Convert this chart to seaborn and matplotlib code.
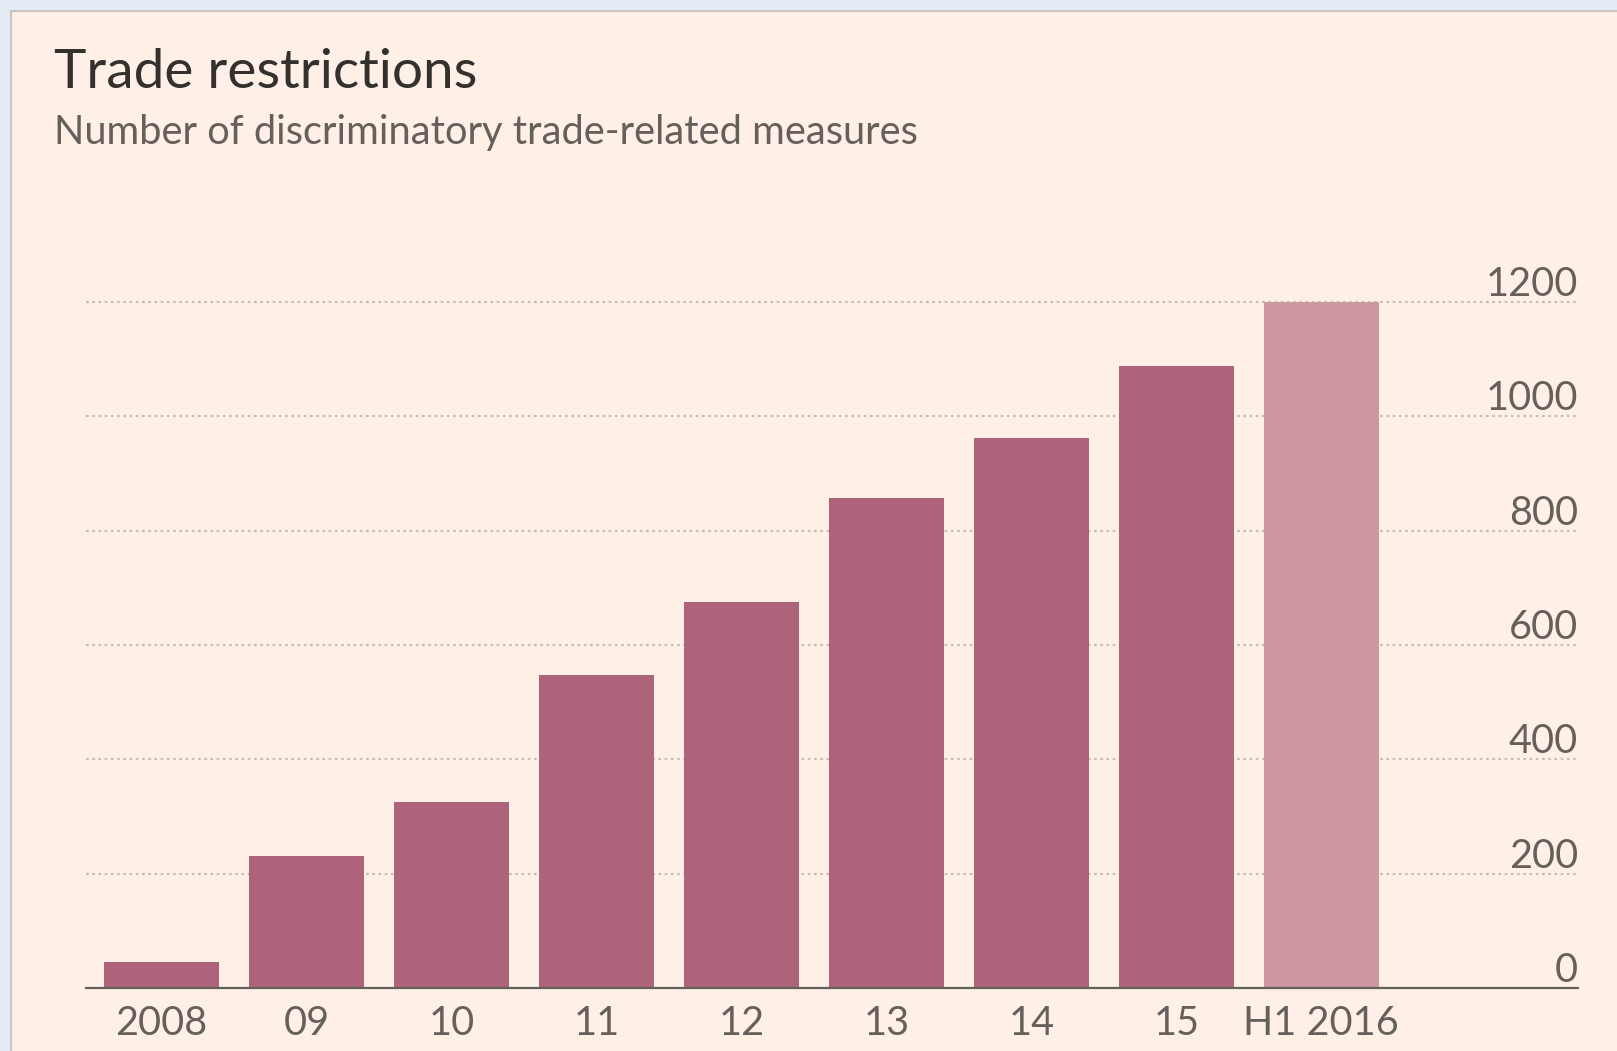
import matplotlib
matplotlib.use("Agg")
import matplotlib.pyplot as plt
from matplotlib.patches import Rectangle
from matplotlib.transforms import ScaledTranslation
import seaborn as sns
import pandas as pd

# ---- data ----
categories = ["2008", "09", "10", "11", "12", "13", "14", "15", "H1 2016"]
values = [45, 231, 325, 547, 675, 857, 962, 1088, 1200]
periods = ["Full year"] * 8 + ["Half year"]
y_ticks = [0, 200, 400, 600, 800, 1000, 1200]

title = "Trade restrictions"
subtitle = "Number of discriminatory trade-related measures"

# ---- style ----
BG = "#FEF0E6"
OUTER = "#E4EDF5"
DARK = "#AD6379"
LIGHT = "#CD97A2"
TEXT_DARK = "#33302E"
TEXT_GREY = "#66605C"
GRID = "#C8BFB8"

sns.set_theme(style="white")
plt.rcParams["font.family"] = ["Lato", "DejaVu Sans"]

W, H, DPI = 1617, 1051, 100
fig = plt.figure(figsize=(W / DPI, H / DPI), dpi=DPI, facecolor=OUTER)

# panel background with grey border
panel = Rectangle((11 / W, -0.01), 1.0, (H - 11) / H + 0.01, transform=fig.transFigure,
                  facecolor=BG, edgecolor="#C9C4C0", linewidth=1.5, zorder=-10)
fig.patches.append(panel)

ymax = 1260
x0, x1 = 86, 1578
ybase = 988
px_per_unit = (988 - 302) / 1200
ax_h = px_per_unit * ymax
ax = fig.add_axes([x0 / W, (H - ybase) / H, (x1 - x0) / W, ax_h / H])
ax.set_facecolor("none")
ax.set_zorder(5)

df = pd.DataFrame({"cat": categories, "val": values, "period": periods})
sns.barplot(data=df, x="cat", y="val", hue="period",
            palette={"Full year": DARK, "Half year": LIGHT},
            dodge=False, width=0.79, legend=False, saturation=1, ax=ax,
            linewidth=0, edgecolor="none", zorder=2)

ax.set_xlim(-0.52, 9.77)
ax.set_ylim(0, ymax)
ax.set_xlabel("")
ax.set_ylabel("")

# gridlines
ax.set_yticks(y_ticks)
ax.yaxis.grid(True, color=GRID, linestyle=(0, (1.2, 1.6)), linewidth=1.6, zorder=0)
ax.set_axisbelow(True)
ax.tick_params(axis="y", left=False, right=False, labelleft=False, labelright=False)

# y labels above gridlines, right aligned
off = ScaledTranslation(0, 6 / DPI, fig.dpi_scale_trans)
for v in y_ticks:
    ax.text(1.0, v, str(v), transform=ax.get_yaxis_transform() + off,
            ha="right", va="baseline", fontsize=28.5, color=TEXT_GREY)

# x axis
ax.tick_params(axis="x", length=0, pad=12, labelsize=28.5, labelcolor=TEXT_GREY)
for s in ["top", "left", "right"]:
    ax.spines[s].set_visible(False)
ax.spines["bottom"].set_color(TEXT_GREY)
ax.spines["bottom"].set_linewidth(1.6)
ax.spines["bottom"].set_zorder(3)

# titles
fig.text(54 / W, 1 - 88 / H, title, fontsize=39.5, color=TEXT_DARK, ha="left", va="baseline")
fig.text(54 / W, 1 - 144 / H, subtitle, fontsize=28.7, color=TEXT_GREY, ha="left", va="baseline")

fig.savefig("out.png", dpi=DPI, facecolor=OUTER)
